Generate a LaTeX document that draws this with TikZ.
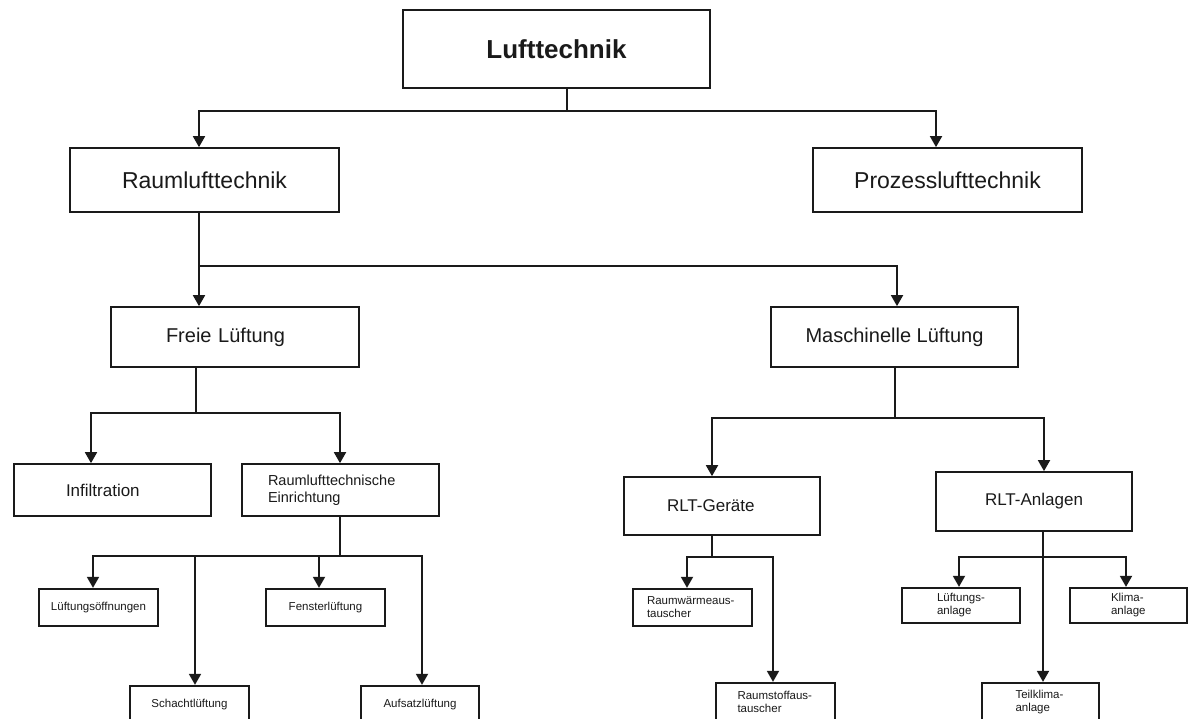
\documentclass[tikz,border=0pt]{standalone}
\usepackage{fontspec}
\setmainfont{Liberation Sans}
\usetikzlibrary{arrows.meta}
\definecolor{ink}{HTML}{1A1A1A}
\begin{document}
\begin{tikzpicture}[x=1pt,y=-1pt,
  box/.style={draw=ink, line width=1.7pt, rectangle, inner sep=0pt, fill=white, text=ink},
  sbox/.style={box, line width=2.3pt, font=\fontsize{11.5}{13}\selectfont},
  conn/.style={draw=ink, line width=1.8pt},
  arr/.style={conn, -{Triangle[width=12pt,length=11pt]}},
  fA/.style={font=\fontsize{26}{30}\selectfont\bfseries},
  fB/.style={font=\fontsize{23}{27}\selectfont},
  fC/.style={font=\fontsize{20}{24}\selectfont},
  fD/.style={font=\fontsize{17}{20}\selectfont},
  fE/.style={font=\fontsize{14.5}{17}\selectfont}
]
\clip (0,0) rectangle (1188,719);
\fill[white] (0,0) rectangle (1188,719);

% nodes
\node[box,fA,minimum width=307pt,minimum height=78pt] (luft) at (556.5,49) {Lufttechnik};
\node[box,fB,minimum width=269pt,minimum height=64pt] (raum) at (204.5,180) {Raumlufttechnik};
\node[box,fB,minimum width=269pt,minimum height=64pt] (proz) at (947.5,180) {Prozesslufttechnik};
\node[box,fC,minimum width=248pt,minimum height=60pt,text width=138pt,align=left] (freie) at (235,337) {Freie Lüftung};
\node[box,fC,minimum width=247pt,minimum height=60pt] (masch) at (894.5,337) {Maschinelle Lüftung};
\node[box,fD,minimum width=197pt,minimum height=52pt,text width=93pt,align=left] (infil) at (112.5,490) {Infiltration};
\node[box,fE,minimum width=197pt,minimum height=52pt,text width=145pt,align=left] (einr) at (340.5,490) {Raumlufttechnische\\Einrichtung};
\node[box,fD,minimum width=196pt,minimum height=58pt,text width=110pt,align=left] (geraete) at (722,506) {RLT-Geräte};
\node[box,fD,minimum width=196pt,minimum height=59pt] (anlagen) at (1034,501.5) {RLT-Anlagen};

\node[sbox,minimum width=119pt,minimum height=37pt] (oeff) at (98.5,607.5) {Lüftungsöffnungen};
\node[sbox,minimum width=119pt,minimum height=37pt] (fenster) at (325.5,607.5) {Fensterlüftung};
\node[sbox,minimum width=119pt,minimum height=37pt] (schacht) at (189.5,704.5) {Schachtlüftung};
\node[sbox,minimum width=118pt,minimum height=37pt] (aufsatz) at (420,704.5) {Aufsatzlüftung};
\node[sbox,minimum width=119pt,minimum height=37pt,text width=91pt,align=left] (waerme) at (692.5,607.5) {Raumwärmeaus-\\tauscher};
\node[sbox,minimum width=119pt,minimum height=38pt,text width=76pt,align=left] (stoff) at (775.5,702) {Raumstoffaus-\\tauscher};
\node[sbox,minimum width=118pt,minimum height=35pt,text width=48pt,align=left] (lueftanl) at (961,605.5) {Lüftungs-\\anlage};
\node[sbox,minimum width=117pt,minimum height=35pt,text width=35pt,align=left] (klima) at (1128.5,605.5) {Klima-\\anlage};
\node[sbox,minimum width=117pt,minimum height=38pt,text width=50pt,align=left] (teil) at (1040.5,702) {Teilklima-\\anlage};

% junctions
\coordinate (j1) at (567,111);
\coordinate (j2) at (199,266);
\coordinate (j3) at (196,413);
\coordinate (j4) at (340,556);
\coordinate (j5) at (895,418);
\coordinate (j6) at (712,557);
\coordinate (j7) at (1043,557);

% connectors
\draw[conn] (luft.south -| j1) -- (j1);
\draw[arr] (j1) -| (raum.north -| 199,0);
\draw[arr] (j1) -| (proz.north -| 936,0);

\draw[arr] (raum.south -| j2) -- (freie.north -| j2);
\draw[arr] (j2) -| (masch.north -| 897,0);

\draw[conn] (freie.south -| j3) -- (j3);
\draw[arr] (j3) -| (infil.north -| 91,0);
\draw[arr] (j3) -| (einr.north -| 340,0);

\draw[conn] (einr.south -| j4) -- (j4);
\draw[arr] (j4) -| (oeff.north -| 93,0);
\draw[arr] (j4) -| (schacht.north -| 195,0);
\draw[arr] (j4) -| (fenster.north -| 319,0);
\draw[arr] (j4) -| (aufsatz.north -| 422,0);

\draw[conn] (masch.south -| j5) -- (j5);
\draw[arr] (j5) -| (geraete.north -| 712,0);
\draw[arr] (j5) -| (anlagen.north -| 1044,0);

\draw[conn] (geraete.south -| j6) -- (j6);
\draw[arr] (j6) -| (waerme.north -| 687,0);
\draw[arr] (j6) -| (stoff.north -| 773,0);

\draw[arr] (anlagen.south -| j7) -- (teil.north -| j7);
\draw[arr] (j7) -| (lueftanl.north -| 959,0);
\draw[arr] (j7) -| (klima.north -| 1126,0);
\end{tikzpicture}
\end{document}
